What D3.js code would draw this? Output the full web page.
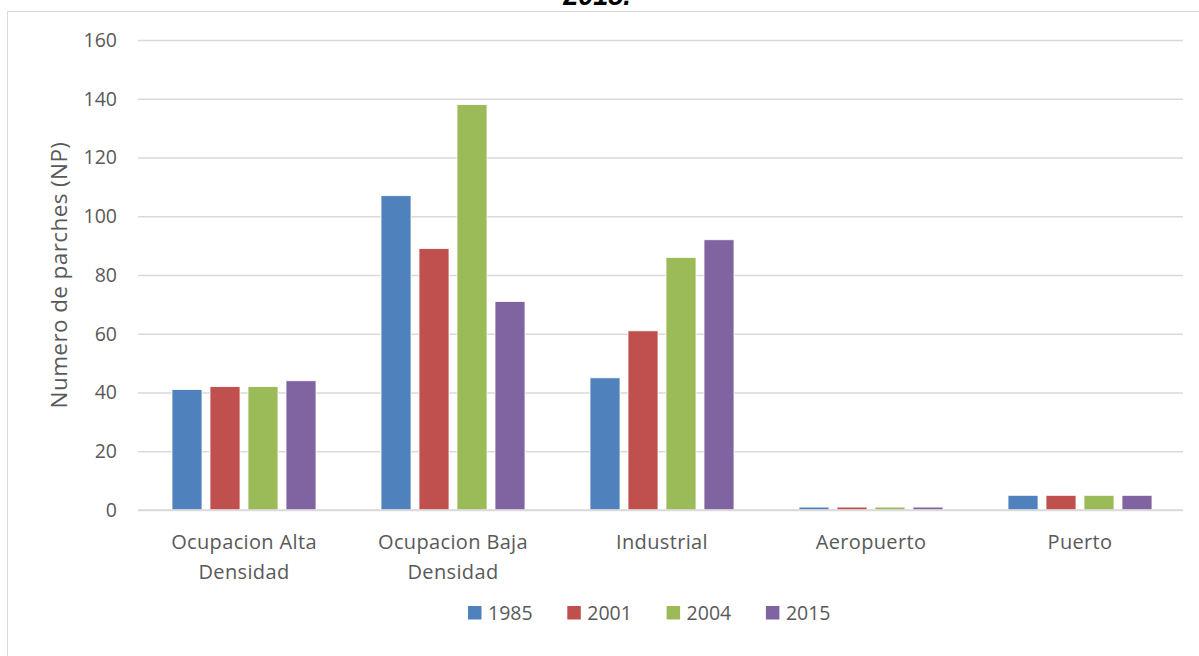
<!DOCTYPE html>
<html>
<head>
<meta charset="utf-8">
<script src="https://cdn.jsdelivr.net/npm/d3@7"></script>
<style>
  html, body { margin: 0; padding: 0; background: #fff; }
  svg { display: block; }
  text { font-family: "Open Sans", Lato, sans-serif; fill: #595959; }
</style>
</head>
<body>
<svg id="chart" width="1199" height="656"></svg>
<script>
// Land-use classes and the number of patches per year
const categories = [
  ["Ocupacion Alta", "Densidad"],
  ["Ocupacion Baja", "Densidad"],
  ["Industrial"],
  ["Aeropuerto"],
  ["Puerto"]
];
const years = ["1985", "2001", "2004", "2015"];
const values1985 = [41, 107, 45, 1, 5];
const values2001 = [42, 89, 61, 1, 5];
const values2004 = [42, 138, 86, 1, 5];
const values2015 = [44, 71, 92, 1, 5];
const yTicks = [0, 20, 40, 60, 80, 100, 120, 140, 160];
const colors = ["#4F81BD", "#C0504D", "#9BBB59", "#8064A2"];

const seriesValues = [values1985, values2001, values2004, values2015];

const svg = d3.select("#chart");

// chart frame (only the top and left edges fall inside the window)
svg.append("line").attr("x1", 7.5).attr("x2", 1199).attr("y1", 11.5).attr("y2", 11.5)
  .attr("stroke", "#d9d9d9").attr("stroke-width", 1);
svg.append("line").attr("x1", 7.5).attr("x2", 7.5).attr("y1", 11.5).attr("y2", 656)
  .attr("stroke", "#d9d9d9").attr("stroke-width", 1);

// title, mostly above the top edge
svg.append("text")
  .attr("x", 597).attr("y", 5)
  .attr("text-anchor", "middle")
  .style("font-family", "'Liberation Sans', Arial, sans-serif")
  .style("font-weight", "bold").style("font-style", "italic")
  .style("font-size", "27px").style("fill", "#000")
  .text("2015.");

const plot = { left: 138, right: 1183, top: 40, bottom: 510 };
const groupWidth = 144;

const y = d3.scaleLinear().domain([0, 160]).range([plot.bottom, plot.top]);
const x0 = d3.scaleBand().domain(d3.range(categories.length))
  .range([plot.left, plot.right]).paddingInner(0).paddingOuter(0);
const x1 = d3.scaleBand().domain(d3.range(years.length))
  .range([0, groupWidth]).paddingInner(0.21).paddingOuter(0);

// gridlines
const yAxis = d3.axisLeft(y).tickValues(yTicks).tickSize(-(plot.right - plot.left)).tickPadding(21);
const gy = svg.append("g").attr("transform", `translate(${plot.left},0)`).call(yAxis);
gy.select(".domain").remove();
gy.selectAll(".tick line").attr("stroke", "#d9d9d9").attr("stroke-width", 1.5);
gy.selectAll(".tick text").style("font-size", "19.5px").style("fill", "#595959")
  .style("font-family", "'Open Sans', sans-serif");

// bars
const groups = svg.append("g").selectAll("g")
  .data(categories).join("g")
  .attr("transform", (d, i) => `translate(${x0(i) + (x0.bandwidth() - groupWidth) / 2 + 1.5},0)`);

groups.selectAll("rect")
  .data((d, i) => seriesValues.map((s, k) => ({ k, v: s[i] })))
  .join("rect")
  .attr("x", d => x1(d.k))
  .attr("width", x1.bandwidth())
  .attr("y", d => y(d.v))
  .attr("height", d => y(0) - y(d.v))
  .attr("fill", d => colors[d.k])
  .attr("stroke", "#fff").attr("stroke-width", 0.8);

// baseline
svg.append("line").attr("x1", plot.left).attr("x2", plot.right)
  .attr("y1", y(0)).attr("y2", y(0)).attr("stroke", "#d9d9d9").attr("stroke-width", 1.5);

// category labels
const catLabels = svg.append("g").selectAll("text")
  .data(categories).join("text")
  .attr("x", (d, i) => x0(i) + x0.bandwidth() / 2 + 1.5)
  .attr("y", 549)
  .attr("text-anchor", "middle")
  .style("font-size", "20px")
  .style("letter-spacing", "0.35px");
catLabels.selectAll("tspan").data(d => d).join("tspan")
  .attr("x", function () { return this.parentNode.getAttribute("x"); })
  .attr("dy", (d, i) => i === 0 ? 0 : 29.5)
  .text(d => d);

// y-axis title
svg.append("text")
  .attr("transform", "translate(67,275) rotate(-90)")
  .attr("text-anchor", "middle")
  .style("font-size", "22.5px")
  .style("letter-spacing", "0.4px")
  .text("Numero de parches (NP)");

// legend
const legend = svg.append("g").selectAll("g")
  .data(years).join("g")
  .attr("transform", (d, i) => `translate(${468 + i * 99.3},606)`);
legend.append("rect").attr("width", 13.5).attr("height", 13.5)
  .attr("fill", (d, i) => colors[i]);
legend.append("text").attr("x", 20).attr("y", 13.5)
  .style("font-size", "19.5px").text(d => d);
</script>
</body>
</html>
